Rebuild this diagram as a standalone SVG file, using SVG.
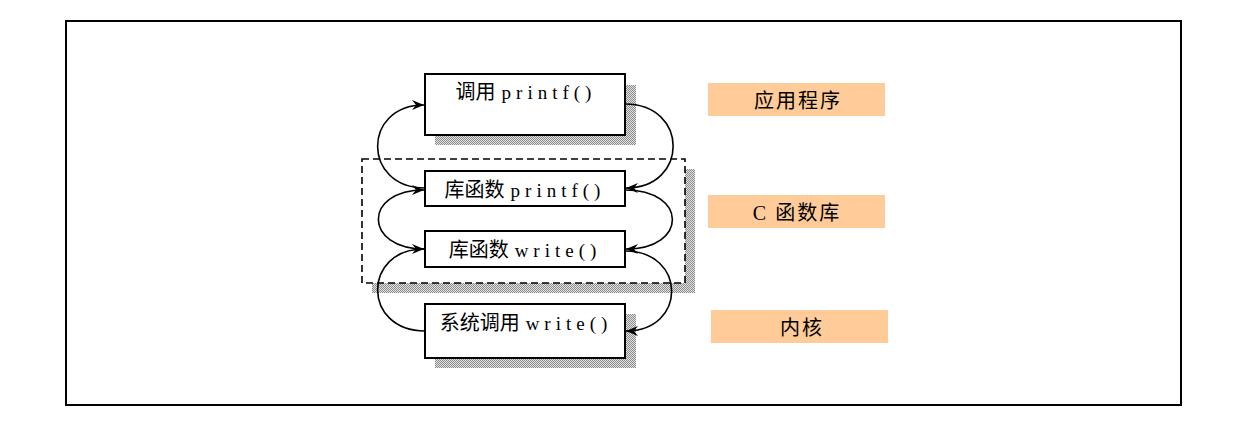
<svg xmlns="http://www.w3.org/2000/svg" width="1243" height="432" viewBox="0 0 1243 432">
<style>
.box{fill:#fff;stroke:#000;stroke-width:2}
.shadow{fill:url(#dots)}
.t{font-family:"Liberation Serif","Noto Sans CJK SC",serif;font-size:18.5px;fill:#000;text-anchor:middle}
.cj{font-family:"Noto Sans CJK SC",sans-serif;font-size:20px}
.la{font-family:"Liberation Serif",serif;font-size:19px;letter-spacing:5px}
.lab{fill:#FFCB99}
.lt{font-family:"Liberation Serif","Noto Sans CJK SC",serif;font-size:20px;fill:#000;text-anchor:middle;letter-spacing:2px}
.c{fill:none;stroke:#000;stroke-width:1.6;marker-end:url(#ah)}
</style>
<defs>
<pattern id="dots" width="2" height="2" patternUnits="userSpaceOnUse">
<rect width="2" height="2" fill="#e2e2e2"/>
<rect width="1" height="1" fill="#8c8c8c"/>
<rect x="1" y="1" width="1" height="1" fill="#8c8c8c"/>
</pattern>
<marker id="ah" viewBox="0 0 12 10" refX="12" refY="5" markerWidth="12" markerHeight="10" markerUnits="userSpaceOnUse" orient="auto">
<path d="M0,0 L12,5 L0,10 L4,5 z" fill="#000"/>
</marker>
</defs>
<rect x="66" y="21" width="1115" height="384" fill="#fff" stroke="#000" stroke-width="2"/>
<g id="lib-group">
<rect class="shadow" x="372" y="169" width="323" height="124"/>
<rect x="362" y="159" width="323" height="124" fill="#fff" stroke="#000" stroke-width="1.6" stroke-dasharray="7,4"/>
</g>
<g id="n1">
<rect class="shadow" x="435" y="85" width="201" height="60"/>
<rect class="box" x="425" y="74" width="200" height="61"/>
<text class="t" x="526" y="99"><tspan class="cj">调用</tspan><tspan class="la" dx="6">printf()</tspan></text>
</g>
<g id="n2">
<rect class="box" x="425" y="171" width="200" height="35"/>
<text class="t" x="525" y="197"><tspan class="cj">库函数</tspan><tspan class="la" dx="6">printf()</tspan></text>
</g>
<g id="n3">
<rect class="box" x="425" y="231" width="200" height="36"/>
<text class="t" x="525" y="257"><tspan class="cj">库函数</tspan><tspan class="la" dx="6">write()</tspan></text>
</g>
<g id="n4">
<rect class="shadow" x="435" y="314" width="201" height="54"/>
<rect class="box" x="425" y="304" width="200" height="54"/>
<text class="t" x="526" y="330"><tspan class="cj">系统调用</tspan><tspan class="la" dx="6">write()</tspan></text>
</g>
<g id="label-app">
<rect class="lab" x="708" y="83" width="177" height="33"/>
<text class="lt" x="798" y="108">应用程序</text>
</g>
<g id="label-libc">
<rect class="lab" x="708" y="195" width="177" height="33"/>
<text class="lt" x="797" y="220">C 函数库</text>
</g>
<g id="label-kernel">
<rect class="lab" x="711" y="310" width="177" height="33"/>
<text class="lt" x="802" y="335">内核</text>
</g>
<g id="connectors">
<path class="c" d="M625,104 C689,104 689,188 626,188"/>
<path class="c" d="M625,190 C688,190 688,249 626,249"/>
<path class="c" d="M625,251 C687,251 687,331 626,331"/>
<path class="c" d="M425,331 C362,331 362,249 424,249"/>
<path class="c" d="M425,249 C363,249 363,190 424,190"/>
<path class="c" d="M425,188 C362,188 362,105 424,105"/>
</g>
</svg>
